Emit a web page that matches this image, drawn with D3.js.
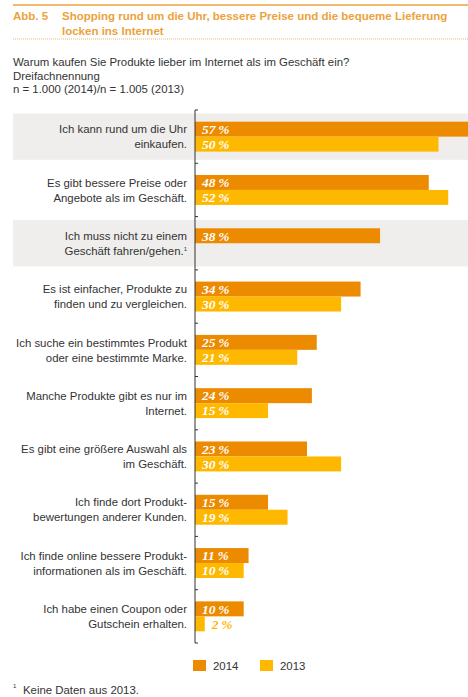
<!DOCTYPE html>
<html>
<head>
<meta charset="utf-8">
<script src="https://cdn.jsdelivr.net/npm/d3@7"></script>
<style>
    body { margin: 0; background: #fff; }
    svg { display: block; }
    .lbl { font-family: 'Liberation Sans', Arial, sans-serif; font-size: 11.4px; fill: #333; }
    .val { font-family: 'Liberation Serif', 'DejaVu Serif', serif; font-size: 13.5px; font-weight: bold; font-style: italic; }
</style>
</head>
<body>
<div id="chart"></div>
<script>
// Data
const categories = [
    ['Ich kann rund um die Uhr', 'einkaufen.'],
    ['Es gibt bessere Preise oder', 'Angebote als im Geschäft.'],
    ['Ich muss nicht zu einem', 'Geschäft fahren/gehen.'],
    ['Es ist einfacher, Produkte zu', 'finden und zu vergleichen.'],
    ['Ich suche ein bestimmtes Produkt', 'oder eine bestimmte Marke.'],
    ['Manche Produkte gibt es nur im', 'Internet.'],
    ['Es gibt eine größere Auswahl als', 'im Geschäft.'],
    ['Ich finde dort Produkt-', 'bewertungen anderer Kunden.'],
    ['Ich finde online bessere Produkt-', 'informationen als im Geschäft.'],
    ['Ich habe einen Coupon oder', 'Gutschein erhalten.']
];
const footnoted = [2]; // categories with footnote mark
const seriesNames = ['2014', '2013'];
const values2014 = [57, 48, 38, 34, 25, 24, 23, 15, 11, 10];
const values2013 = [50, 52, null, 30, 21, 15, 30, 19, 10, 2];
const seriesColors = ['#ec8a00', '#ffb800'];
const shadedRows = [0, 2];

const titleTag = 'Abb. 5';
const titleLines = ['Shopping rund um die Uhr, bessere Preise und die bequeme Lieferung', 'locken ins Internet'];
const subtitleLines = ['Warum kaufen Sie Produkte lieber im Internet als im Geschäft ein?', 'Dreifachnennung', 'n = 1.000 (2014)/n = 1.005 (2013)'];
const footnote = 'Keine Daten aus 2013.';

// Layout
const W = 468, H = 697,
    axisX = 195,
    plotTop = 110, plotBottom = 643,
    accent = '#eca23c';

const svg = d3.select('#chart').append('svg').attr('width', W).attr('height', H);

// Header
svg.append('line').attr('x1', 13).attr('x2', W).attr('y1', 5).attr('y2', 5)
    .attr('stroke', accent).attr('stroke-width', 1.3);
svg.append('text').attr('x', 13).attr('y', 20).text(titleTag)
    .attr('font-family', 'Liberation Sans, Arial, sans-serif').attr('font-size', 11.5)
    .attr('font-weight', 'bold').attr('fill', accent);
svg.append('g').selectAll('text').data(titleLines).join('text')
    .attr('x', 62).attr('y', (d, i) => 20 + i * 15).text(d => d)
    .attr('font-family', 'Liberation Sans, Arial, sans-serif').attr('font-size', 11.5)
    .attr('font-weight', 'bold').attr('fill', accent);
svg.append('line').attr('x1', 13).attr('x2', W).attr('y1', 39).attr('y2', 39)
    .attr('stroke', accent).attr('stroke-width', 0.8).attr('stroke-dasharray', '1,1');

svg.append('g').selectAll('text').data(subtitleLines).join('text')
    .attr('class', 'lbl').attr('x', 13).attr('y', (d, i) => 66 + i * 13.5).text(d => d);

// Scales
const x = d3.scaleLinear().domain([0, 100]).range([axisX, axisX + 487]);
const y = d3.scaleBand().domain(d3.range(categories.length)).range([plotTop, plotBottom]);
const ySeries = d3.scaleBand().domain(seriesNames).range([0, y.bandwidth()]).paddingOuter(0.78);

// Shaded rows
svg.append('g').selectAll('rect').data(shadedRows).join('rect')
    .attr('x', 13).attr('width', W - 13)
    .attr('y', d => y(d) + 3.5).attr('height', y.bandwidth() - 7)
    .attr('fill', '#efeeec');

// Bars
const rows = categories.map((c, i) => ({ i, vals: [values2014[i], values2013[i]] }));
const groups = svg.append('g').selectAll('g').data(rows).join('g')
    .attr('transform', d => 'translate(0,' + y(d.i) + ')');

groups.selectAll('rect').data(d => d.vals.map((v, k) => ({ v, k })).filter(e => e.v != null)).join('rect')
    .attr('x', axisX)
    .attr('y', e => ySeries(seriesNames[e.k]))
    .attr('width', e => x(e.v) - axisX)
    .attr('height', ySeries.bandwidth())
    .attr('fill', e => seriesColors[e.k]);

groups.selectAll('text.val').data(d => d.vals.map((v, k) => ({ v, k })).filter(e => e.v != null)).join('text')
    .attr('class', 'val')
    .attr('x', e => x(e.v) - axisX < 20 ? x(e.v) + 7 : axisX + 7)
    .attr('y', e => ySeries(seriesNames[e.k]) + ySeries.bandwidth() / 2 + 4.8)
    .attr('fill', e => x(e.v) - axisX < 20 ? seriesColors[e.k] : '#fff')
    .text(e => e.v + '\u2009%');

// Category labels
groups.each(function(d) {
    const t = d3.select(this).append('text').attr('class', 'lbl').attr('text-anchor', 'end');
    categories[d.i].forEach((line, j) => {
        t.append('tspan').attr('x', axisX - 8)
            .attr('y', y.bandwidth() / 2 - 3.3 + j * 15).text(line);
        if (j === 1 && footnoted.includes(d.i)) {
            t.append('tspan').style('font-size', '6px').attr('dy', -4).text('1');
        }
    });
});

// Axis
const ax = svg.append('g').attr('transform', 'translate(' + axisX + ',0)');
ax.append('line').attr('y1', plotTop).attr('y2', plotBottom).attr('stroke', '#333').attr('stroke-width', 1);
ax.selectAll('line.tk').data(d3.range(categories.length + 1)).join('line')
    .attr('class', 'tk')
    .attr('x1', 0).attr('x2', 3)
    .attr('y1', i => plotTop + i * y.step()).attr('y2', i => plotTop + i * y.step())
    .attr('stroke', '#333');

// Legend
const legend = svg.append('g').attr('transform', 'translate(193,660)');
const li = legend.selectAll('g').data(seriesNames).join('g')
    .attr('transform', (d, i) => 'translate(' + i * 67 + ',0)');
li.append('rect').attr('width', 13).attr('height', 11).attr('fill', (d, i) => seriesColors[i]);
li.append('text').attr('class', 'lbl').attr('x', 20).attr('y', 9.5).text(d => d);

// Footnote
svg.append('text').attr('class', 'lbl').attr('x', 13).attr('y', 688).style('font-size', '6px').text('1');
svg.append('text').attr('class', 'lbl').attr('x', 23).attr('y', 694).text(footnote);
</script>
</body>
</html>
